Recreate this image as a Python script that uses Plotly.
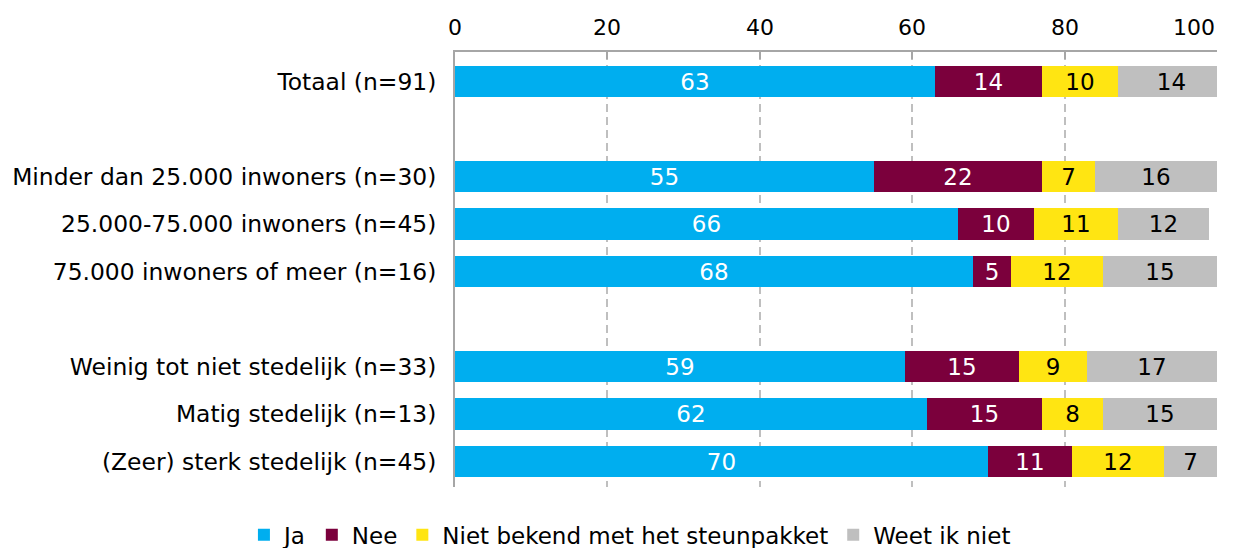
import plotly.graph_objects as go

# Survey groups (top to bottom) and their slot positions; empty slots separate the blocks
groups = [
    "Totaal (n=91)",
    "Minder dan 25.000 inwoners (n=30)",
    "25.000-75.000 inwoners (n=45)",
    "75.000 inwoners of meer (n=16)",
    "Weinig tot niet stedelijk (n=33)",
    "Matig stedelijk (n=13)",
    "(Zeer) sterk stedelijk (n=45)",
]
slots = [0, 2, 3, 4, 6, 7, 8]

# Percentages per answer
ja = [63, 55, 66, 68, 59, 62, 70]
nee = [14, 22, 10, 5, 15, 15, 11]
niet_bekend = [10, 7, 11, 12, 9, 8, 12]
weet_niet = [14, 16, 12, 15, 17, 15, 7]

x_ticks = [0, 20, 40, 60, 80, 100]

series = [
    ("Ja", ja, "#00AEEF", "white"),
    ("Nee", nee, "#7B003C", "white"),
    ("Niet bekend met het steunpakket", niet_bekend, "#FFE512", "black"),
    ("Weet ik niet", weet_niet, "#BFBFBF", "black"),
]

font_family = "DejaVu Sans"

fig = go.Figure()
for name, vals, color, txtcol in series:
    fig.add_trace(go.Bar(
        name=name,
        y=slots,
        x=vals,
        orientation="h",
        marker=dict(color=color, line=dict(width=0)),
        width=0.66,
        text=[str(v) for v in vals],
        textposition="inside",
        insidetextanchor="middle",
        textangle=0,
        constraintext="none",
        textfont=dict(color=txtcol, size=23, family=font_family),
        hoverinfo="skip",
    ))

# Top axis labels; the last one is kept inside the chart area
for t in x_ticks:
    fig.add_annotation(
        x=t, xref="x",
        y=1, yref="paper",
        yshift=10,
        text=str(t),
        showarrow=False,
        xanchor="right" if t == x_ticks[-1] else "center",
        yanchor="bottom",
        font=dict(size=22, family=font_family, color="black"),
    )

fig.update_layout(
    barmode="stack",
    width=1242,
    height=548,
    margin=dict(l=455, r=25, t=52, b=61, autoexpand=False),
    paper_bgcolor="white",
    plot_bgcolor="white",
    font=dict(family=font_family, size=23, color="black"),
    showlegend=True,
    legend=dict(
        orientation="h",
        x=-0.277, xref="paper",
        xanchor="left",
        y=-0.11, yref="paper", yanchor="middle",
        font=dict(size=23, family=font_family),
        itemwidth=30,
        traceorder="normal",
    ),
    bargap=0,
)

fig.update_xaxes(
    side="top",
    range=[0, 100],
    tickvals=x_ticks,
    showticklabels=False,
    showgrid=True,
    gridcolor="#BFBFBF",
    griddash="8px,5px",
    gridwidth=1.5,
    showline=True,
    linecolor="#A6A6A6",
    linewidth=2,
    ticks="inside",
    ticklen=7,
    tickcolor="#A6A6A6",
    tickwidth=1.5,
    zeroline=False,
    automargin=False,
    fixedrange=True,
)

fig.update_yaxes(
    range=[8.54, -0.62],
    tickvals=slots,
    ticktext=groups,
    tickfont=dict(size=23.4, family=font_family),
    showgrid=False,
    showline=True,
    linecolor="#A6A6A6",
    linewidth=2,
    ticks="",
    ticklabelstandoff=12,
    zeroline=False,
    automargin=False,
    fixedrange=True,
)

fig.write_html("out.html")
